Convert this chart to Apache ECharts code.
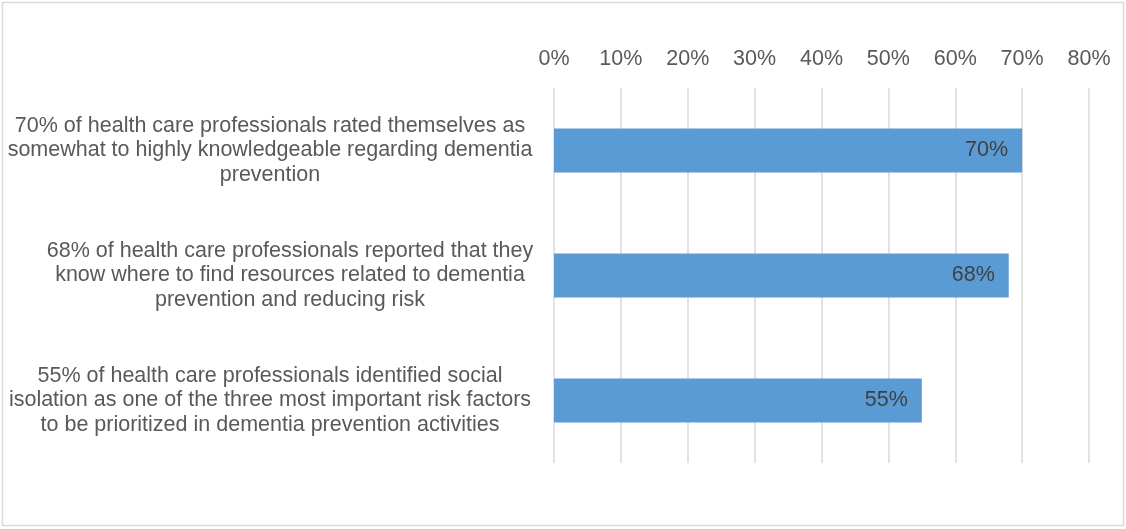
<!DOCTYPE html>
<html>
<head>
<meta charset="utf-8">
<script src="https://cdn.jsdelivr.net/npm/echarts@6/dist/echarts.min.js"></script>
<style>
html,body{margin:0;padding:0;background:#fff;}
#c{width:1126px;height:529px;}
</style>
</head>
<body>
<div id="c"></div>
<script>
const categories = [
  "70% of health care professionals rated themselves as\nsomewhat to highly knowledgeable regarding dementia\nprevention",
  "68% of health care professionals reported that they\nknow where to find resources related to dementia\nprevention and reducing risk",
  "55% of health care professionals identified social\nisolation as one of the three most important risk factors\nto be prioritized in dementia prevention activities"
];
const values = [70, 68, 55];
const labelShift = [0, 40, 0];

const chart = echarts.init(document.getElementById('c'));
chart.setOption({
  animation: false,
  backgroundColor: '#fff',
  graphic: [{
    type: 'rect', shape: {x: 2.5, y: 2.5, width: 1121, height: 523},
    style: {fill: 'none', stroke: '#d9d9d9', lineWidth: 1.5}, silent: true
  }],
  grid: {left: 554, right: 37, top: 88, bottom: 66, containLabel: false, outerBoundsMode: 'none'},
  xAxis: {
    type: 'value', position: 'top', min: 0, max: 80, interval: 10,
    axisLine: {show: false}, axisTick: {show: false},
    splitLine: {show: true, lineStyle: {color: '#d9d9d9', width: 1.5}},
    axisLabel: {formatter: '{value}%', color: '#595959', fontSize: 21.5, fontFamily: 'Liberation Sans, Arial', margin: 18, hideOverlap: false, showMinLabel: true, showMaxLabel: true}
  },
  yAxis: {
    type: 'category', inverse: true,
    data: categories.map((c, i) => ({value: c, textStyle: {align: 'center', padding: [0, 0, 0, labelShift[i]]}})),
    axisLine: {show: false}, axisTick: {show: false},
    axisLabel: {color: '#595959', fontSize: 21.5, lineHeight: 24.5, fontFamily: 'Liberation Sans, Arial', align: 'center', margin: 284}
  },
  series: [{
    type: 'bar', data: values, barWidth: 44,
    itemStyle: {color: '#5B9BD5'},
    label: {show: true, position: 'insideRight', distance: 14, formatter: '{c}%', color: '#404040', fontSize: 21.5, fontFamily: 'Liberation Sans, Arial'}
  }]
});
</script>
</body>
</html>
